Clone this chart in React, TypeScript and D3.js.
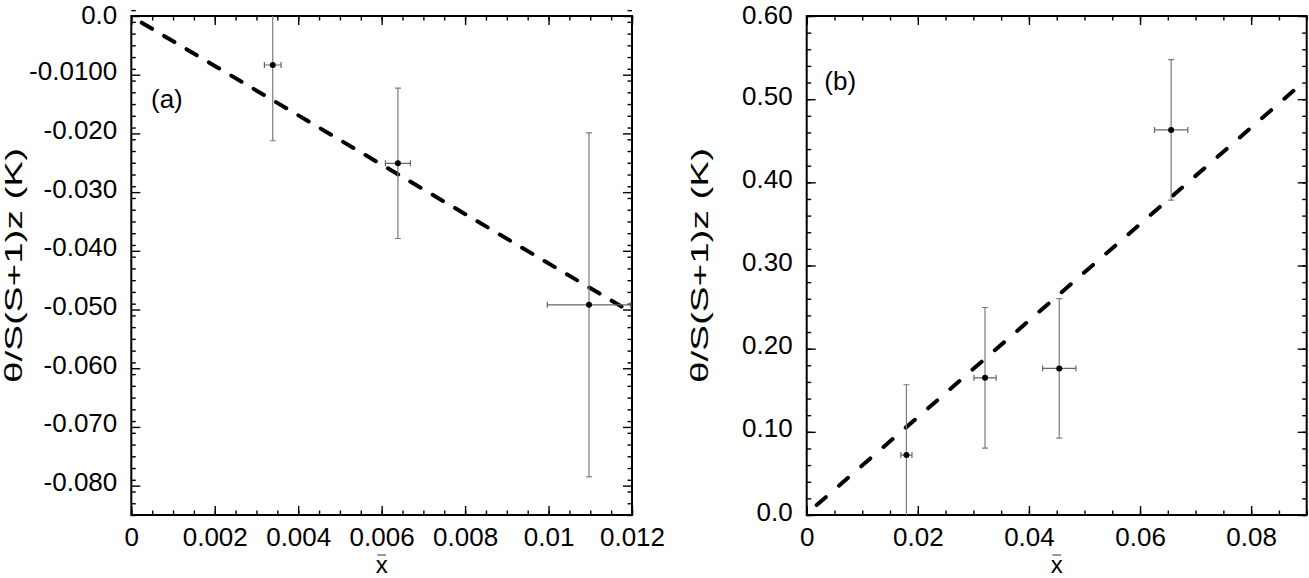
import { useEffect, useRef } from 'react'
import * as d3 from 'd3'

// panel (a): small-x data
const xA = [0.00339, 0.00639, 0.01097]
const yA = [-0.00835, -0.0251, -0.0492]
const xErrA = [0.0002, 0.0003, 0.001]
const yErrA = [0.0129, 0.0128, 0.0293]
const fitXA = [0.00025, 0.01175]
const fitYA = [-0.00114, -0.0495]
const xTicksA = [0, 0.002, 0.004, 0.006, 0.008, 0.01, 0.012]
const xLabelsA = ['0', '0.002', '0.004', '0.006', '0.008', '0.01', '0.012']
const yTicksA = [0, -0.01, -0.02, -0.03, -0.04, -0.05, -0.06, -0.07, -0.08]
const yLabelsA = ['0.0', '-0.0100', '-0.020', '-0.030', '-0.040', '-0.050', '-0.060', '-0.070', '-0.080']

// panel (b): larger-x data
const xB = [0.01795, 0.0321, 0.04546, 0.0656]
const yB = [0.0721, 0.165, 0.1763, 0.463]
const xErrB = [0.001, 0.002, 0.003, 0.003]
const yErrB = [0.0845, 0.0845, 0.0838, 0.0845]
const fitXB = [0.0018, 0.0883]
const fitYB = [0.012, 0.514]
const xTicksB = [0, 0.02, 0.04, 0.06, 0.08]
const xLabelsB = ['0', '0.02', '0.04', '0.06', '0.08']
const yTicksB = [0, 0.1, 0.2, 0.3, 0.4, 0.5, 0.6]
const yLabelsB = ['0.0', '0.10', '0.20', '0.30', '0.40', '0.50', '0.60']

const FONT = "'Liberation Sans', Arial, Helvetica, sans-serif"
const Y_TITLE = 'θ/S(S+1)z (K)'

interface Panel {
  tag: string
  left: number
  right: number
  top: number
  bottom: number
  xDomain: [number, number]
  yDomain: [number, number]
  xMinor: number
  yMinor: number
  xTicks: number[]
  xLabels: string[]
  yTicks: number[]
  yLabels: string[]
  xs: number[]
  ys: number[]
  xErr: number[]
  yErr: number[]
  fitX: number[]
  fitY: number[]
  dash: string
  tagX: number
  tagY: number
  titleX: number
}

function drawPanel(svg: d3.Selection<SVGSVGElement, unknown, null, undefined>, p: Panel) {
  const x = d3.scaleLinear().domain(p.xDomain).range([p.left, p.right])
  const y = d3.scaleLinear().domain(p.yDomain).range([p.bottom, p.top])

  const clipId = `clip-${p.tag}`
  svg.append('defs').append('clipPath').attr('id', clipId)
    .append('rect')
    .attr('x', p.left).attr('y', p.top)
    .attr('width', p.right - p.left).attr('height', p.bottom - p.top)

  const g = svg.append('g')

  const steps = (d: [number, number], s: number) =>
    d3.range(Math.round((d[1] - d[0]) / s) + 1).map(i => d[0] + i * s)
  const xMinorVals = steps(p.xDomain, p.xMinor)
  const yMinorVals = steps(p.yDomain, p.yMinor)

  const styleAxis = (sel: d3.Selection<SVGGElement, unknown, null, undefined>) => {
    sel.select('.domain').remove()
    sel.selectAll('.tick line').attr('stroke', '#000').attr('stroke-width', 1.4)
    sel.attr('font-family', FONT).attr('font-size', 26)
    sel.selectAll('text').attr('fill', '#000')
  }

  // minor ticks on all four sides, pointing inward
  const blank = () => ''
  g.append('g').attr('transform', `translate(0,${p.bottom})`)
    .call(d3.axisBottom(x).tickValues(xMinorVals).tickSizeInner(-4.5).tickSizeOuter(0).tickFormat(blank))
    .call(styleAxis)
  g.append('g').attr('transform', `translate(0,${p.top})`)
    .call(d3.axisTop(x).tickValues(xMinorVals).tickSizeInner(-4.5).tickSizeOuter(0).tickFormat(blank))
    .call(styleAxis)
  g.append('g').attr('transform', `translate(${p.left},0)`)
    .call(d3.axisLeft(y).tickValues(yMinorVals).tickSizeInner(-4.5).tickSizeOuter(0).tickFormat(blank))
    .call(styleAxis)
  g.append('g').attr('transform', `translate(${p.right},0)`)
    .call(d3.axisRight(y).tickValues(yMinorVals).tickSizeInner(-4.5).tickSizeOuter(0).tickFormat(blank))
    .call(styleAxis)

  // major ticks
  g.append('g').attr('transform', `translate(0,${p.bottom})`)
    .call(d3.axisBottom(x).tickValues(p.xTicks).tickSizeInner(-9).tickSizeOuter(0)
      .tickFormat((_d, i) => p.xLabels[i]))
    .call(styleAxis)
    .call(s => s.selectAll('text').attr('dy', null).attr('y', 30.5))
  g.append('g').attr('transform', `translate(0,${p.top})`)
    .call(d3.axisTop(x).tickValues(p.xTicks).tickSizeInner(-9).tickSizeOuter(0).tickFormat(blank))
    .call(styleAxis)
  g.append('g').attr('transform', `translate(${p.left},0)`)
    .call(d3.axisLeft(y).tickValues(p.yTicks).tickSizeInner(-9).tickSizeOuter(0)
      .tickFormat((_d, i) => p.yLabels[i]))
    .call(styleAxis)
    .call(s => s.selectAll<SVGTextElement, number>('text')
      .attr('dy', null).attr('x', -14)
      // the topmost label sits at the frame edge; nudge it down so it stays on the page
      .attr('y', d => (y(d) - p.top < 1 ? 7.5 : 5)))
  g.append('g').attr('transform', `translate(${p.right},0)`)
    .call(d3.axisRight(y).tickValues(p.yTicks).tickSizeInner(-9).tickSizeOuter(0).tickFormat(blank))
    .call(styleAxis)

  // frame
  g.append('rect')
    .attr('x', p.left).attr('y', p.top)
    .attr('width', p.right - p.left).attr('height', p.bottom - p.top)
    .attr('fill', 'none').attr('stroke', '#000').attr('stroke-width', 2)

  const pts = p.xs.map((v, i) => ({ x: v, y: p.ys[i], ex: p.xErr[i], ey: p.yErr[i] }))
  const plot = g.append('g').attr('clip-path', `url(#${clipId})`)

  // fitted dashed line
  const fit = p.fitX.map((v, i) => [v, p.fitY[i]] as [number, number])
  plot.append('path')
    .attr('d', d3.line<[number, number]>().x(d => x(d[0])).y(d => y(d[1]))(fit))
    .attr('fill', 'none').attr('stroke', '#000').attr('stroke-width', 4)
    .attr('stroke-linecap', 'round').attr('stroke-dasharray', p.dash)

  // error bars
  const eb = plot.append('g').attr('stroke', '#7a7a7a').attr('stroke-width', 1.2).attr('fill', 'none')
  pts.forEach(d => {
    const cx = x(d.x), cy = y(d.y)
    const yt = y(d.y + d.ey), yb = y(d.y - d.ey)
    const xl = x(d.x - d.ex), xr = x(d.x + d.ex)
    eb.append('line').attr('x1', cx).attr('x2', cx).attr('y1', yt).attr('y2', yb)
    eb.append('line').attr('x1', cx - 3).attr('x2', cx + 3).attr('y1', yt).attr('y2', yt)
    eb.append('line').attr('x1', cx - 3).attr('x2', cx + 3).attr('y1', yb).attr('y2', yb)
    eb.append('line').attr('x1', xl).attr('x2', xr).attr('y1', cy).attr('y2', cy).attr('stroke', '#666')
    eb.append('line').attr('x1', xl).attr('x2', xl).attr('y1', cy - 3).attr('y2', cy + 3).attr('stroke', '#666')
    eb.append('line').attr('x1', xr).attr('x2', xr).attr('y1', cy - 3).attr('y2', cy + 3).attr('stroke', '#666')
  })

  plot.selectAll('circle.pt')
    .data(pts)
    .join('circle')
    .attr('class', 'pt')
    .attr('cx', d => x(d.x)).attr('cy', d => y(d.y))
    .attr('r', 3).attr('fill', '#000')

  // panel tag
  g.append('text')
    .attr('x', p.tagX).attr('y', p.tagY)
    .attr('font-family', FONT).attr('font-size', 26)
    .text(`(${p.tag})`)

  // axis titles: x with an overbar
  const cx = (p.left + p.right) / 2
  g.append('text')
    .attr('x', cx).attr('y', 573)
    .attr('text-anchor', 'middle')
    .attr('font-family', FONT).attr('font-size', 24)
    .text('x')
  g.append('line')
    .attr('x1', cx - 4.3).attr('x2', cx + 4.3)
    .attr('y1', 555).attr('y2', 555)
    .attr('stroke', '#555').attr('stroke-width', 1.2)

  const cy = (p.top + p.bottom) / 2
  g.append('text')
    .attr('transform', `translate(${p.titleX},${cy}) rotate(-90)`)
    .attr('text-anchor', 'middle')
    .attr('font-family', FONT).attr('font-size', 24)
    .attr('textLength', 235).attr('lengthAdjust', 'spacingAndGlyphs')
    .text(Y_TITLE)
}

export default function App() {
  const svgRef = useRef<SVGSVGElement>(null)

  useEffect(() => {
    document.body.style.margin = '0'
    if (!svgRef.current) return
    const svg = d3.select(svgRef.current)
    svg.selectAll('*').remove()

    drawPanel(svg, {
      tag: 'a', left: 131.3, right: 632, top: 16, bottom: 515,
      xDomain: [0, 0.012], yDomain: [-0.085, 0],
      xMinor: 0.0005, yMinor: 0.002,
      xTicks: xTicksA, xLabels: xLabelsA, yTicks: yTicksA, yLabels: yLabelsA,
      xs: xA, ys: yA, xErr: xErrA, yErr: yErrA, fitX: fitXA, fitY: fitYA,
      dash: '12,14', tagX: 151, tagY: 107.5, titleX: 22,
    })
    drawPanel(svg, {
      tag: 'b', left: 806.7, right: 1306.7, top: 16, bottom: 515,
      xDomain: [0, 0.09], yDomain: [0, 0.6],
      xMinor: 0.005, yMinor: 0.02,
      xTicks: xTicksB, xLabels: xLabelsB, yTicks: yTicksB, yLabels: yLabelsB,
      xs: xB, ys: yB, xErr: xErrB, yErr: yErrB, fitX: fitXB, fitY: fitYB,
      dash: '12,17.5', tagX: 824.3, tagY: 90, titleX: 708,
    })
  }, [])

  return (
    <svg ref={svgRef} width={1309} height={578} style={{ display: 'block', background: '#fff' }} />
  )
}
